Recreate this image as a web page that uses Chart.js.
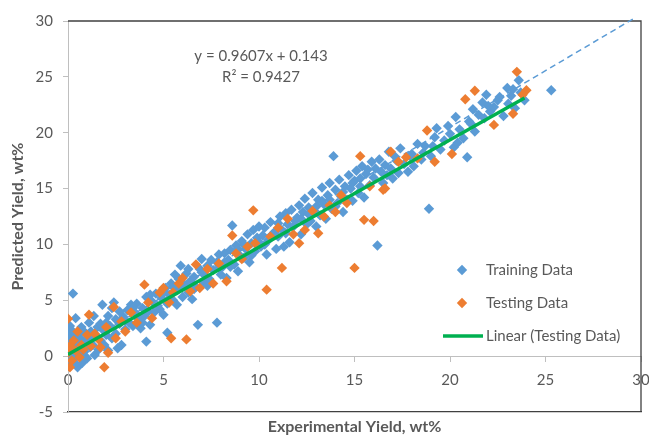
<!DOCTYPE html>
<html>
<head>
<meta charset="UTF-8">
<title>Predicted vs Experimental Yield</title>
<script src="https://cdn.jsdelivr.net/npm/chart.js@4.4.0/dist/chart.umd.min.js"></script>
<style>
    html, body { margin: 0; padding: 0; background: #fff; }
    #wrap { width: 649px; height: 437px; }
</style>
</head>
<body>
<div id="wrap"><canvas id="yieldChart"></canvas></div>
<script>
// [experimental, predicted] pairs
const trainingData = [
    [0,0.2],[0,0.8],[0,1.5],[0,-0.5],[0.05,1.9],[0.1,0.4],[0.1,-0.9],[0.15,1.1],[0.2,2.3],[0.2,0.0],
    [0.26,5.6],[0.3,1.6],[0.3,-0.3],[0.35,0.7],[0.4,3.4],[0.45,1.3],[0.5,-1.0],[0.5,2.0],[0.55,0.2],[0.6,1.7],
    [0.65,0.9],[0.7,2.6],[0.75,-0.6],[0.8,1.2],[0.85,0.4],[0.9,2.1],[1.0,1.5],[1.0,-0.2],[1.1,3.0],[1.15,0.8],
    [1.2,2.2],[1.3,1.0],[1.35,3.6],[1.4,0.1],[1.5,1.8],[1.55,2.6],[1.6,0.6],[1.7,1.4],[1.8,4.6],[1.8,2.4],
    [1.9,1.0],[2.0,3.0],[2.0,1.9],[2.1,0.5],[2.2,2.7],[2.3,4.3],[2.3,1.6],[2.4,4.8],[2.5,3.3],[2.5,2.0],
    [2.6,0.7],[2.7,2.9],[2.8,1.0],[2.9,3.5],[3.0,2.4],[3.1,4.1],[3.2,3.0],[3.3,4.6],[3.4,2.7],[3.5,3.9],
    [3.6,4.7],[3.7,3.3],[3.8,2.5],[3.9,4.3],[4.0,3.6],[4.1,5.3],[4.1,1.3],[4.2,4.0],[4.3,2.8],[4.4,4.9],
    [4.5,3.9],[4.6,5.6],[4.7,4.5],[4.9,5.2],[5.0,3.7],[5.1,6.1],[5.2,4.7],[5.2,2.1],[5.3,5.5],[5.4,6.5],
    [5.5,5.0],[5.6,7.3],[5.7,5.9],[5.8,6.9],[5.9,8.1],[6.0,5.3],[6.1,6.4],[6.2,7.4],[6.3,5.7],[6.4,6.7],
    [6.5,5.1],[6.6,7.1],[6.7,6.2],[6.8,2.8],[6.9,7.8],[7.0,8.7],[7.1,6.6],[7.2,7.2],[7.3,8.1],[7.4,6.9],
    [7.6,7.7],[7.8,3.0],[7.8,8.4],[7.9,9.1],[8.0,7.3],[8.1,8.0],[8.2,9.2],[8.3,7.0],[8.4,8.6],[8.5,9.5],
    [8.6,11.7],[8.7,8.2],[8.8,9.9],[8.9,7.6],[9.0,9.0],[9.1,10.3],[9.2,8.8],[9.3,9.6],[9.4,10.9],[9.5,8.4],
    [9.6,10.1],[9.7,11.3],[9.8,9.4],[9.9,10.6],[10.0,11.6],[10.1,9.8],[10.2,10.8],[10.3,11.5],[10.4,9.1],[10.5,10.4],
    [10.6,12.0],[10.8,11.1],[10.9,9.6],[11.0,10.7],[11.1,12.5],[11.2,11.3],[11.3,9.8],[11.4,12.8],[11.5,11.8],[11.6,10.2],
    [11.7,13.1],[11.8,11.6],[12.0,12.4],[12.1,13.5],[12.2,10.9],[12.3,12.9],[12.4,14.1],[12.5,11.8],[12.6,13.3],[12.7,12.1],
    [12.8,14.6],[12.9,13.0],[13.0,11.6],[13.1,14.0],[13.2,12.6],[13.3,15.1],[13.4,13.6],[13.5,12.3],[13.6,14.4],[13.7,15.5],
    [13.8,13.2],[13.9,17.9],[14.0,14.9],[14.1,13.7],[14.2,15.8],[14.3,14.3],[14.4,12.9],[14.5,15.2],[14.6,14.0],[14.7,16.2],
    [14.8,15.0],[14.9,13.9],[15.0,15.7],[15.1,16.6],[15.2,14.6],[15.3,15.9],[15.4,17.0],[15.5,14.2],[15.6,16.3],[15.8,15.3],
    [15.9,17.4],[16.0,16.0],[16.2,9.9],[16.3,17.6],[16.4,16.5],[16.5,15.5],[16.6,17.1],[16.8,18.3],[16.9,16.8],[17.0,15.9],
    [17.1,17.9],[17.3,16.4],[17.4,18.6],[17.6,17.2],[17.8,16.5],[18.0,18.1],[18.1,17.0],[18.3,19.0],[18.5,17.6],[18.7,18.8],
    [18.9,13.2],[19.0,17.9],[19.2,19.6],[19.3,20.4],[19.5,18.5],[19.7,19.3],[20.0,19.9],[20.2,18.7],[20.3,21.4],[20.5,20.3],
    [20.7,19.5],[20.9,17.8],[21.0,21.0],[21.2,22.1],[21.3,20.1],[21.5,21.6],[21.7,22.7],[21.9,23.4],[22.1,21.9],[22.3,22.3],
    [22.5,22.9],[22.8,21.5],[23.0,24.0],[23.05,22.6],[23.2,23.3],[23.4,22.2],[23.6,24.7],[23.7,23.6],[23.9,22.9],[25.3,23.8],
    [0.0,1.1],[0.1,2.7],[0.2,1.3],[0.3,0.1],[0.4,-0.7],[0.6,0.5],[0.9,0.0],[1.2,1.7],[1.7,2.9],[2.1,3.6],
    [2.7,4.0],[3.0,3.2],[3.4,4.3],[3.9,3.0],[4.3,5.5],[4.8,4.2],[5.0,5.8],[5.5,6.2],[5.7,4.6],[6.0,6.2],
    [6.3,7.8],[6.6,6.0],[7.0,7.5],[7.3,6.3],[7.5,8.6],[7.9,7.9],[8.2,8.4],[8.5,8.0],[8.9,9.6],[9.2,10.0],
    [9.6,9.0],[10.0,10.2],[10.3,10.0],[10.7,10.9],[11.0,11.9],[11.4,11.0],[11.9,12.1],[12.2,12.3],[12.6,12.7],[13.0,13.4],
    [13.3,13.9],[13.7,14.0],[14.0,13.4],[14.4,14.7],[14.9,15.5],[15.3,15.2],[15.7,16.7],[16.1,16.8],[16.7,16.2],[17.2,17.5],
    [17.9,17.9],[18.6,18.2],[19.1,18.8],[19.9,20.6],[20.4,19.1],[21.1,20.8],[21.8,21.3],[22.6,23.2],[23.3,23.9],[22.0,22.4]
];
const testingData = [
    [0,3.35],[0.1,-1.0],[0,0.3],[0.1,0.9],[0.2,-0.4],[0.3,1.4],[0.4,0.5],[0.5,2.2],[0.6,-0.1],[0.7,1.0],
    [0.8,0.6],[1.0,1.9],[1.1,3.7],[1.2,0.9],[1.4,2.0],[1.6,1.5],[1.7,0.8],[1.9,-1.0],[2.0,2.6],[2.1,0.3],
    [2.4,4.4],[2.5,1.6],[2.8,3.1],[3.0,2.2],[3.3,3.9],[3.6,3.0],[4.0,6.4],[4.2,4.8],[4.4,3.4],[4.8,5.7],
    [5.0,6.1],[5.3,4.8],[5.4,1.6],[5.5,5.7],[5.8,6.5],[6.0,7.0],[6.2,1.5],[6.4,5.8],[6.7,8.2],[6.9,6.1],
    [7.3,7.8],[7.6,6.5],[7.9,8.3],[8.3,6.7],[8.6,10.8],[8.8,9.2],[9.1,8.7],[9.4,9.8],[9.7,13.05],[9.8,10.1],
    [10.4,5.95],[10.6,10.7],[11.0,11.5],[11.2,7.9],[11.5,12.3],[11.8,10.9],[12.1,10.1],[12.4,11.3],[12.8,13.0],[13.1,11.0],
    [13.4,12.5],[13.7,13.5],[14.0,12.9],[14.3,14.4],[14.6,13.7],[15.0,7.9],[15.3,17.9],[15.5,12.2],[16.0,12.1],[15.8,15.2],
    [16.5,14.9],[16.6,15.0],[16.9,18.3],[17.3,17.4],[17.7,17.8],[18.3,17.7],[18.8,20.2],[19.2,17.4],[20.1,18.1],[20.8,23.0],
    [21.3,23.75],[22.3,20.7],[23.3,21.7],[23.5,25.45],[24.0,23.8],[23.8,23.4]
];
// ends of the green trendline and of the dashed diagonal, as seen
const testingTrend = [[0,0.14],[23.9,23.1]];
const diagonalLine = [[0,0.3],[29.7,30.3]];

const seriesNames = ['Training Data', 'Testing Data', 'Linear (Testing Data)'];
const equationLines = ['y = 0.9607x + 0.143', 'R\u00B2 = 0.9427'];
const xTitle = 'Experimental Yield, wt%';
const yTitle = 'Predicted Yield, wt%';
const xRange = [0, 30];
const yRange = [-5, 30];
const tickStep = 5;

const BLUE = '#5B9BD5', ORANGE = '#ED7D31', GREEN = '#00B050';
const TEXT = '#595959', AXIS = '#BFBFBF', FRAME = '#404040';
const FONT = 'Lato, "Open Sans", sans-serif';

function toXY(arr) {
    return arr.map(p => ({x: p[0], y: p[1]}));
}

// don't let the edge tick labels push the plot inwards
function noSidePadding(scale) {
    scale.paddingLeft = 0;
    scale.paddingRight = 0;
}

// top and right edges of the plot box
const framePlugin = {
    id: 'frame',
    beforeDatasetsDraw(chart) {
        const {ctx, chartArea: a} = chart;
        ctx.save();
        ctx.strokeStyle = FRAME;
        ctx.lineWidth = 1.3;
        ctx.beginPath();
        ctx.moveTo(a.left, a.top);
        ctx.lineTo(a.right, a.top);
        ctx.lineTo(a.right, a.bottom);
        ctx.stroke();
        ctx.restore();
    }
};

// equation text and the legend inside the plot
const notesPlugin = {
    id: 'notes',
    afterDraw(chart) {
        const {ctx, chartArea: a} = chart;
        ctx.save();
        ctx.font = '15px ' + FONT;
        ctx.fillStyle = TEXT;
        ctx.textAlign = 'center';
        ctx.textBaseline = 'middle';
        ctx.fillText(equationLines[0], a.left + 193, a.top + 35);
        ctx.fillText(equationLines[1], a.left + 193, a.top + 56);

        const mx = a.right - 179, tx = a.right - 155;
        const rows = [a.bottom - 142, a.bottom - 109, a.bottom - 76];
        const colors = [BLUE, ORANGE];
        ctx.textAlign = 'left';
        for (let i = 0; i < 2; i++) {
            ctx.fillStyle = colors[i];
            ctx.beginPath();
            ctx.moveTo(mx, rows[i] - 5.2);
            ctx.lineTo(mx + 5.2, rows[i]);
            ctx.lineTo(mx, rows[i] + 5.2);
            ctx.lineTo(mx - 5.2, rows[i]);
            ctx.closePath();
            ctx.fill();
            ctx.fillStyle = TEXT;
            ctx.fillText(seriesNames[i], tx, rows[i]);
        }
        ctx.strokeStyle = GREEN;
        ctx.lineWidth = 3.5;
        ctx.beginPath();
        ctx.moveTo(a.right - 198, rows[2]);
        ctx.lineTo(a.right - 158, rows[2]);
        ctx.stroke();
        ctx.fillStyle = TEXT;
        ctx.fillText(seriesNames[2], tx, rows[2]);
        ctx.restore();
    }
};

new Chart(document.getElementById('yieldChart'), {
    type: 'scatter',
    data: {
        datasets: [
            {
                label: seriesNames[2],
                data: toXY(testingTrend),
                showLine: true,
                borderColor: GREEN,
                borderWidth: 3.5,
                pointRadius: 0,
                order: 0
            },
            {
                label: seriesNames[1],
                data: toXY(testingData),
                pointStyle: 'rectRot',
                pointRadius: 5.2,
                backgroundColor: ORANGE,
                borderWidth: 0,
                order: 1
            },
            {
                label: seriesNames[0],
                data: toXY(trainingData),
                pointStyle: 'rectRot',
                pointRadius: 5.2,
                backgroundColor: BLUE,
                borderWidth: 0,
                order: 2
            },
            {
                label: 'diagonal',
                data: toXY(diagonalLine),
                showLine: true,
                borderColor: BLUE,
                borderWidth: 1.5,
                borderDash: [6, 4],
                pointRadius: 0,
                clip: false,
                order: 3
            }
        ]
    },
    options: {
        responsive: true,
        maintainAspectRatio: false,
        animation: false,
        events: [],
        layout: { padding: { top: 21, right: 8, left: 0, bottom: 0 } },
        plugins: {
            legend: { display: false },
            tooltip: { enabled: false }
        },
        scales: {
            x: {
                type: 'linear',
                position: 'bottom',
                min: xRange[0],
                max: xRange[1],
                ticks: { display: false, stepSize: tickStep },
                grid: { display: false },
                border: { display: true, color: FRAME, width: 1.3 },
                title: {
                    display: true,
                    text: xTitle,
                    color: TEXT,
                    font: { family: FONT, size: 16, weight: 'bold' },
                    padding: { top: 0, bottom: 1 }
                },
                afterFit(scale) { scale.height = 25; noSidePadding(scale); }
            },
            x2: {
                type: 'linear',
                position: { y: 0 },
                min: xRange[0],
                max: xRange[1],
                ticks: {
                    stepSize: tickStep,
                    autoSkip: false,
                    maxRotation: 0,
                    padding: 10,
                    color: TEXT,
                    font: { family: FONT, size: 15 }
                },
                grid: { display: true, drawOnChartArea: false, drawTicks: true, tickLength: 5, color: AXIS },
                border: { display: true, color: AXIS, width: 1 },
                afterFit: noSidePadding
            },
            y: {
                type: 'linear',
                position: 'left',
                min: yRange[0],
                max: yRange[1],
                ticks: {
                    stepSize: tickStep,
                    padding: 10,
                    color: TEXT,
                    font: { family: FONT, size: 15 }
                },
                grid: { display: true, drawOnChartArea: false, drawTicks: true, tickLength: 5, color: AXIS },
                border: { display: true, color: AXIS, width: 1 },
                title: {
                    display: true,
                    text: yTitle,
                    color: TEXT,
                    font: { family: FONT, size: 16, weight: 'bold' },
                    padding: { top: 8, bottom: 0 }
                },
                afterFit(scale) { scale.width = 68; }
            }
        }
    },
    plugins: [framePlugin, notesPlugin]
});
</script>
</body>
</html>
